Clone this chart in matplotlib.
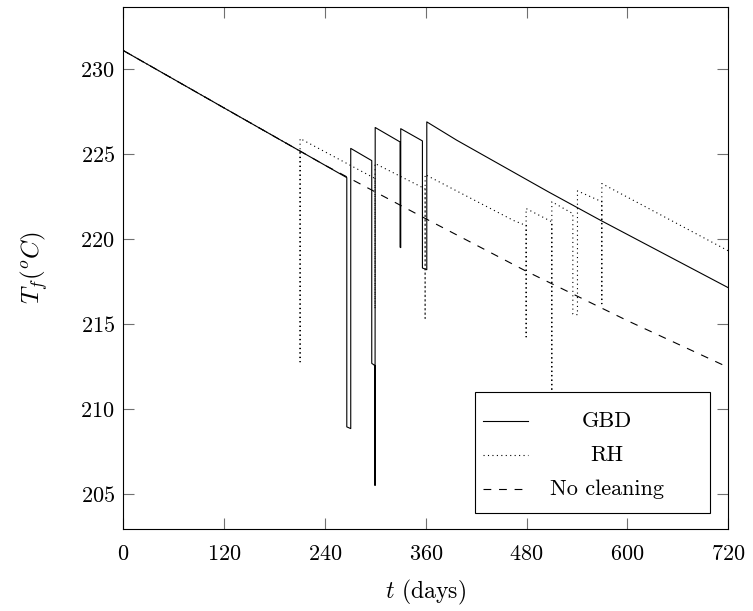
import matplotlib
matplotlib.use('Agg')
import matplotlib.pyplot as plt
from matplotlib.patches import Rectangle
from matplotlib.lines import Line2D

plt.rcParams['font.family'] = ['cmr10']
plt.rcParams['mathtext.fontset'] = 'cm'
plt.rcParams['axes.formatter.use_mathtext'] = True

# 不清洗
nc_days = [0, 120, 240, 360, 480, 600, 720]
nc_temp = [231.1, 227.72, 224.35, 221.2, 218.1, 215.2, 212.45]

# GBD
gbd_days = [0, 120, 240, 266.0, 266.0, 270.7, 270.7, 295.7, 295.7, 299.6, 299.6, 299.8,
            329.4, 329.4, 330.2, 330.2, 356.0, 356.0, 361.2, 361.2, 396.9, 506.0, 567.5, 720]
gbd_temp = [231.1, 227.72, 224.35, 223.62, 208.95, 208.85, 225.34, 224.62, 212.69, 212.55, 205.5, 226.57,
            225.72, 219.53, 219.5, 226.5, 225.78, 218.3, 218.2, 226.9, 225.82, 222.78, 221.12, 217.14]

# RH
rh_days = [0, 120, 210.4, 210.4, 210.4, 299.6, 299.6, 299.6, 359.2, 359.2, 359.2,
           464.3, 479.4, 479.4, 479.4, 510.0, 510.0, 510.0, 535.0, 535.0, 540.5, 540.5,
           569.5, 569.5, 569.5, 720]
rh_temp = [231.1, 227.72, 225.18, 212.78, 225.92, 223.57, 215.9, 224.45, 222.96, 215.35, 223.8,
           221.1, 220.8, 214.25, 221.8, 221.02, 210.0, 222.2, 221.5, 215.6, 215.55, 222.84,
           222.2, 216.2, 223.27, 219.31]

labels = ['GBD', 'RH', 'No cleaning']
styles = ['-', (0, (1, 3)), (0, (7, 7))]

fig = plt.figure(figsize=(7.53, 6.11), dpi=100)
ax = fig.add_axes([0.1637, 0.1342, 0.9672 - 0.1637, 0.9885 - 0.1342])

ax.plot(nc_days, nc_temp, color='black', lw=0.8, linestyle=styles[2])
ax.plot(rh_days, rh_temp, color='black', lw=0.8, linestyle=styles[1])
ax.plot(gbd_days, gbd_temp, color='black', lw=0.8, linestyle=styles[0])

ax.set_xlim(0, 720)
ax.set_ylim(202.94, 233.66)
ax.set_xticks([0, 120, 240, 360, 480, 600, 720])
ax.set_yticks([205, 210, 215, 220, 225, 230])
ax.tick_params(direction='in', top=True, right=True, length=8, width=0.8,
               color='#707070', labelsize=16)
ax.tick_params(axis='x', pad=11)
ax.tick_params(axis='y', pad=6)
for s in ax.spines.values():
    s.set_linewidth(0.8)

ax.set_xlabel(r'$t$ (days)', fontsize=17, labelpad=10)
ax.set_ylabel(r'$T_f(^oC)$', fontsize=18, labelpad=22)

# 图例 (居中文本)
ax.add_patch(Rectangle((0.5813, 0.03), 0.97 - 0.5813, 0.2625 - 0.03, transform=ax.transAxes,
                       facecolor='white', edgecolor='black', lw=0.8, zorder=5))
rows = [0.207, 0.1418, 0.0766]
for lab, ls, yy in zip(labels, styles, rows):
    ax.add_line(Line2D([0.595, 0.669], [yy, yy], transform=ax.transAxes,
                       color='black', lw=0.8, linestyle=ls, zorder=6))
    ax.text(0.80, yy, lab, transform=ax.transAxes, ha='center', va='center',
            fontsize=16, zorder=6)

fig.savefig('out.png', dpi=100)
